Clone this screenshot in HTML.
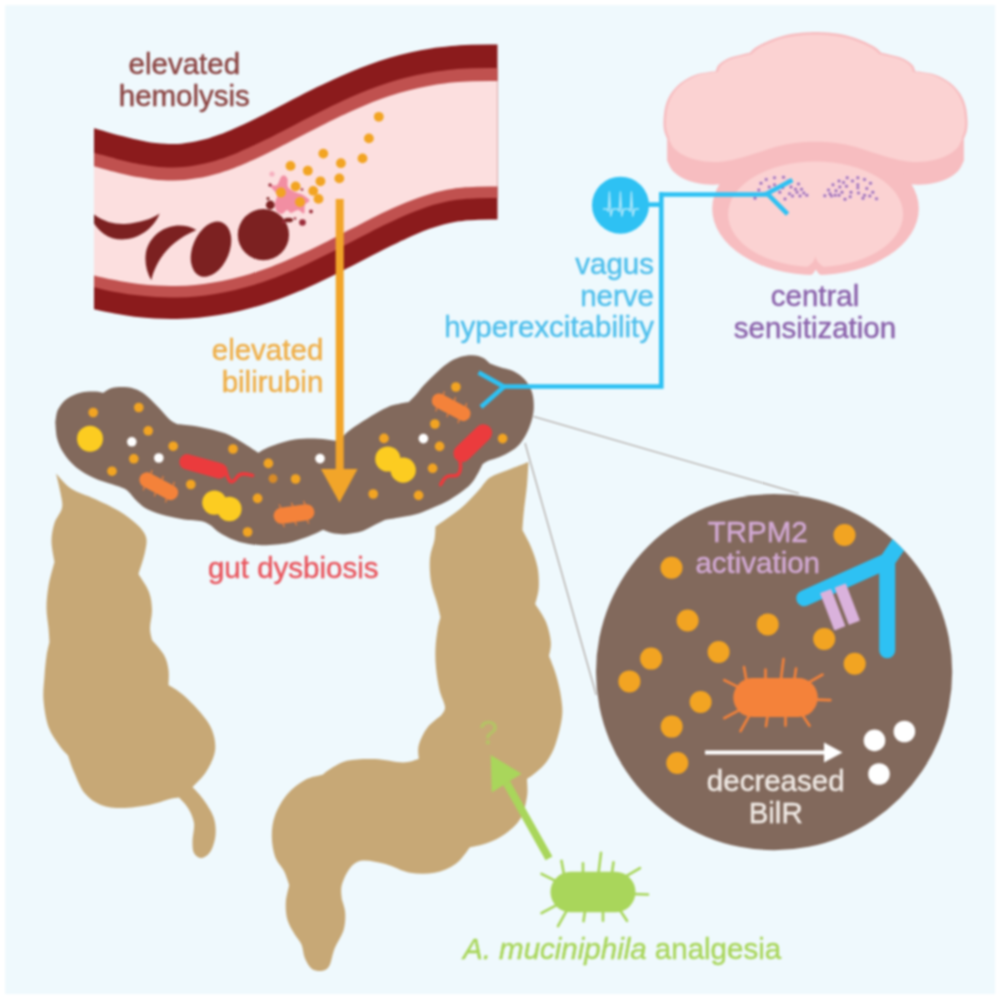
<!DOCTYPE html>
<html lang="en">
<head>
<meta charset="utf-8">
<title>Graphical abstract</title>
<style>
html,body{margin:0;padding:0;background:#fff;}
body{width:1000px;height:1000px;overflow:hidden;position:relative;}
svg{position:absolute;left:0;top:0;display:block;filter:blur(1px);}
</style>
</head>
<body>
<svg width="1000" height="1000" viewBox="0 0 1000 1000">
<rect x="0" y="0" width="1000" height="1000" fill="#fff"/>
<rect x="5.2" y="5.2" width="990" height="988.8" fill="#eff9fd"/>
<clipPath id="vc"><rect x="94" y="0" width="403.5" height="400"/></clipPath>
<g clip-path="url(#vc)" fill="none">
<path d="M40 203.2C42.5 204 50 206.3 55 207.8C60 209.3 65 210.8 70 212.3C75 213.8 80 215.3 85 216.7C90 218.1 95 219.5 100 220.8C105 222.1 110 223.3 115 224.4C120 225.5 125 226.6 130 227.5C135 228.4 140 229.2 145 229.8C150 230.4 155 230.9 160 231.2C165 231.5 170 231.6 175 231.5C180 231.4 185 231.2 190 230.7C195 230.2 200 229.5 205 228.7C210 227.9 215 226.9 220 225.7C225 224.5 230 223.2 235 221.7C240 220.2 245 218.4 250 216.6C255 214.8 260 212.7 265 210.6C270 208.5 275 206.2 280 203.9C285 201.6 290 199.2 295 196.7C300 194.2 305 191.7 310 189.1C315 186.5 320 183.9 325 181.3C330 178.7 335 176.2 340 173.6C345 171 350 168.4 355 166C360 163.6 365 161.2 370 158.9C375 156.6 380 154.4 385 152.3C390 150.2 395 148.3 400 146.5C405 144.7 410 143.1 415 141.6C420 140.1 425 138.8 430 137.7C435 136.6 440 135.7 445 134.9C450 134.1 455 133.6 460 133.1C465 132.6 470 132.4 475 132.2C480 132 485 131.9 490 131.9C495 131.9 500 131.9 505 132C510 132.1 515 132.2 520 132.3C525 132.4 530 132.5 535 132.5C540 132.5 547.5 132.3 550 132.3" stroke="#8b1b1c" stroke-width="175"/>
<path d="M40 203.2C42.5 204 50 206.3 55 207.8C60 209.3 65 210.8 70 212.3C75 213.8 80 215.3 85 216.7C90 218.1 95 219.5 100 220.8C105 222.1 110 223.3 115 224.4C120 225.5 125 226.6 130 227.5C135 228.4 140 229.2 145 229.8C150 230.4 155 230.9 160 231.2C165 231.5 170 231.6 175 231.5C180 231.4 185 231.2 190 230.7C195 230.2 200 229.5 205 228.7C210 227.9 215 226.9 220 225.7C225 224.5 230 223.2 235 221.7C240 220.2 245 218.4 250 216.6C255 214.8 260 212.7 265 210.6C270 208.5 275 206.2 280 203.9C285 201.6 290 199.2 295 196.7C300 194.2 305 191.7 310 189.1C315 186.5 320 183.9 325 181.3C330 178.7 335 176.2 340 173.6C345 171 350 168.4 355 166C360 163.6 365 161.2 370 158.9C375 156.6 380 154.4 385 152.3C390 150.2 395 148.3 400 146.5C405 144.7 410 143.1 415 141.6C420 140.1 425 138.8 430 137.7C435 136.6 440 135.7 445 134.9C450 134.1 455 133.6 460 133.1C465 132.6 470 132.4 475 132.2C480 132 485 131.9 490 131.9C495 131.9 500 131.9 505 132C510 132.1 515 132.2 520 132.3C525 132.4 530 132.5 535 132.5C540 132.5 547.5 132.3 550 132.3" stroke="#c0514f" stroke-width="130" transform="translate(0 1)"/>
<path d="M40 203.2C42.5 204 50 206.3 55 207.8C60 209.3 65 210.8 70 212.3C75 213.8 80 215.3 85 216.7C90 218.1 95 219.5 100 220.8C105 222.1 110 223.3 115 224.4C120 225.5 125 226.6 130 227.5C135 228.4 140 229.2 145 229.8C150 230.4 155 230.9 160 231.2C165 231.5 170 231.6 175 231.5C180 231.4 185 231.2 190 230.7C195 230.2 200 229.5 205 228.7C210 227.9 215 226.9 220 225.7C225 224.5 230 223.2 235 221.7C240 220.2 245 218.4 250 216.6C255 214.8 260 212.7 265 210.6C270 208.5 275 206.2 280 203.9C285 201.6 290 199.2 295 196.7C300 194.2 305 191.7 310 189.1C315 186.5 320 183.9 325 181.3C330 178.7 335 176.2 340 173.6C345 171 350 168.4 355 166C360 163.6 365 161.2 370 158.9C375 156.6 380 154.4 385 152.3C390 150.2 395 148.3 400 146.5C405 144.7 410 143.1 415 141.6C420 140.1 425 138.8 430 137.7C435 136.6 440 135.7 445 134.9C450 134.1 455 133.6 460 133.1C465 132.6 470 132.4 475 132.2C480 132 485 131.9 490 131.9C495 131.9 500 131.9 505 132C510 132.1 515 132.2 520 132.3C525 132.4 530 132.5 535 132.5C540 132.5 547.5 132.3 550 132.3" stroke="#fcdfdf" stroke-width="105.5" transform="translate(0 1.75)"/>
</g>
<path clip-path="url(#vc)" d="M159.6 213.6C151 236 122 247 104 234C96 228 90 219 86 208C100 221 112 224.5 125 224C140 223 152 219 159.6 213.6Z" fill="#7c2121"/>
<path d="M196.4 230C178 219.5 152 228 146 252C144.3 262 146.5 272 151.3 280.2C155.5 262 168 242 196.4 230Z" fill="#7c2121"/>
<ellipse cx="211" cy="249.2" rx="18.3" ry="29" transform="rotate(22.7 211 249.2)" fill="#7c2121"/>
<circle cx="263.4" cy="234.7" r="25.6" fill="#7c2121"/>
<circle cx="270.3" cy="205" r="4.4" fill="#7c2121"/><circle cx="268" cy="198.6" r="1.5" fill="#7c2121"/><ellipse cx="288.5" cy="220" rx="4.5" ry="2.3" fill="#7c2121"/>
<path d="M270.5 186C270.5 184.3 275.2 186.5 277 185C278.8 183.5 279.8 178.6 281 177C282.2 175.4 283.4 175.2 284.5 175.5C285.6 175.8 286.9 177.1 287.5 179C288.1 180.9 286.8 184.8 288 187C289.2 189.2 292.5 190.7 295 192C297.5 193.3 300.6 193.6 303 195C305.4 196.4 309.2 198.8 309.5 200.5C309.8 202.2 305.9 202.8 305 205C304.1 207.2 305.2 212.7 304 213.5C302.8 214.3 300.2 210.1 298 210C295.8 209.9 292.8 213 291 213C289.2 213 288.5 209.8 287 210C285.5 210.2 283.8 213.8 282 214C280.2 214.2 277.7 212.8 276.5 211C275.3 209.2 274.9 205.7 275 203C275.1 200.3 277.8 197.8 277 195C276.2 192.2 270.5 187.7 270.5 186Z" fill="#f28ea2"/>
<circle cx="272" cy="174" r="2.6" fill="#f6b0bf"/>
<circle cx="302.5" cy="222.5" r="3.3" fill="#9a2d3a"/>
<circle cx="311" cy="211.5" r="1.9" fill="#9a2d3a"/>
<circle cx="270" cy="185" r="1.7" fill="#9a2d3a"/>
<circle cx="302" cy="189.5" r="1.3" fill="#9a2d3a"/>
<circle cx="283.5" cy="222" r="1.4" fill="#9a2d3a"/>
<circle cx="295" cy="218.5" r="1.3" fill="#9a2d3a"/>
<g fill="#f2a422">
<circle cx="378.8" cy="116.8" r="4.9"/>
<circle cx="368.9" cy="138.4" r="4.9"/>
<circle cx="362.5" cy="158.4" r="4.9"/>
<circle cx="323.3" cy="153.6" r="4.9"/>
<circle cx="340.9" cy="163.2" r="4.9"/>
<circle cx="339.3" cy="178.4" r="4.9"/>
<circle cx="290.5" cy="165.9" r="4.9"/>
<circle cx="307.8" cy="170.7" r="4.9"/>
<circle cx="320.4" cy="181.3" r="4.9"/>
<circle cx="295.6" cy="186.4" r="4.9"/>
<circle cx="313.2" cy="190.9" r="4.9"/>
<circle cx="318.5" cy="198.9" r="4.9"/>
<circle cx="280.9" cy="192.5" r="4.9"/>
<circle cx="300" cy="202" r="4.9"/>
</g>
<path d="M56 473.5C58.5 476 64.5 484.2 71 488.5C77.5 492.8 87 495.2 95 499C103 502.8 112 506.8 119 511C126 515.2 132.5 520.2 137 524.5C141.5 528.8 144.7 532.4 146 537C147.3 541.6 146.2 545.8 145 552C143.8 558.2 139.6 570.3 138.5 574C140.2 577 146.8 586 149 592C151.2 598 151.8 604 152 610C152.2 616 150 623 150 628C150 633 151.7 638 152 640C154 642.5 161.2 650 164 655C166.8 660 167.8 665 168.5 670C169.2 675 168.5 682.5 168.5 685C170.8 686.5 176.8 689.5 182 694C187.2 698.5 195 706 200 712C205 718 209.5 723.5 212 730C214.5 736.5 216 744 215 751C214 758 209.8 766 206 772C202.2 778 194.8 784.5 192.5 787C194.2 789 199.5 794 203 799C206.5 804 211.4 811 213.5 817C215.6 823 216 829.2 215.5 835C215 840.8 212.8 847.7 210.5 851.5C208.2 855.3 204.2 857.8 201.5 858C198.8 858.2 195.5 855.8 194 853C192.5 850.2 192.5 846 192.5 841C192.5 836 194.8 828.5 194 823C193.2 817.5 190.5 812.2 188 808C185.5 803.8 180.5 799.2 179 797.5C177.5 797.8 175 797.8 170 799C165 800.2 157 803.5 149 805C141 806.5 130 808 122 808C114 808 107.2 807.5 101 805C94.8 802.5 89 798.5 84.5 793C80 787.5 76.8 778.2 74 772C71.2 765.8 69 758.2 68 755.5C66.5 753.8 62.2 749.8 59 745C55.8 740.2 51.1 734.5 48.5 727C45.9 719.5 44.2 708.5 43.5 700C42.8 691.5 44 683.3 44.5 676C45 668.7 45.7 661.7 46.5 656C47.3 650.3 49 644.3 49.5 642C49.3 639.7 49 633.7 48.5 628C48 622.3 46.5 615 46.5 608C46.5 601 47.2 593.7 48.5 586C49.8 578.3 53.5 566 54.5 562C54 558.5 51.5 547.5 51.5 541C51.5 534.5 52.8 528.5 54.5 523C56.2 517.5 61 513 62 508C63 503 61.5 498.8 60.5 493C59.5 487.2 56.8 476.8 56 473.5Z" fill="#c7a876"/>
<path d="M528.5 462C528.2 465.8 527.8 476.7 527 485C526.2 493.3 524.6 504.5 523.8 512C523 519.5 522.6 527 522.4 530C523.8 532.8 528.5 540.8 531 547C533.5 553.2 536.2 560.2 537.5 567C538.8 573.8 539.1 581.8 538.7 588C538.3 594.2 535.8 601.3 535.2 604C537 607 543.4 615.7 546 622C548.6 628.3 550.3 636.3 550.8 642C551.3 647.7 549.3 653.7 549 656C550.2 659.2 554 668.2 556 675C558 681.8 560 690 561 697C562 704 562.9 709.2 562 717C561.1 724.8 558.1 736.6 555.6 744C553.1 751.4 550.1 756.8 546.8 761.6C543.5 766.4 539.1 769.7 535.8 772.6C532.5 775.5 528.5 777.9 527 779C527 782 528.1 790.2 527 796.8C525.9 803.4 524.1 812.6 520.4 818.8C516.7 825 510.5 830 505 834C499.5 838 493.3 840.8 487.4 843C481.5 845.2 472.7 846.7 469.8 847.4C467.4 850.2 461.4 859.8 455.5 864C449.6 868.2 442.1 871.3 434.5 872.8C426.9 874.2 418.2 874.2 410 872.8C401.8 871.3 393.4 866 385.5 864C377.6 862 368.6 859.9 362.8 860.5C356.9 861.1 354 863.4 350.5 867.5C347 871.6 343.2 879.8 341.8 885C340.3 890.2 341.8 896.7 341.8 899C342.3 901.3 345 907.8 345.2 913C345.5 918.2 345.2 924.7 343.5 930.5C341.8 936.3 337.1 942.2 334.8 948C332.4 953.8 331.5 961.7 329.5 965.5C327.5 969.3 325.4 970.2 322.5 970.8C319.6 971.3 314.9 971 312 969C309.1 967 306.8 962.6 305 958.5C303.2 954.4 303.2 948.6 301.5 944.5C299.8 940.4 296.8 938.1 294.5 934C292.2 929.9 289 925.2 287.5 920C286 914.8 285.5 908.3 285.8 902.5C286 896.7 288.7 887.9 289.2 885C288.4 882.7 286.3 875.7 284 871C281.7 866.3 277.3 862.8 275.2 857C273.2 851.2 271.8 843 271.8 836C271.8 829 272.6 822 275.2 815C277.9 808 282.5 799.8 287.5 794C292.5 788.2 299.2 783.2 305 780C310.8 776.8 319.6 775.6 322.5 774.8C323.7 773.9 325.4 771.8 329.5 769.5C333.6 767.2 339.4 762.5 347 760.8C354.6 759 365.7 758.7 375 759C384.3 759.3 395.7 762.5 403 762.5C410.3 762.5 416.1 759.6 418.8 759C418.8 756.7 417.3 750.2 418.8 745C420.2 739.8 423.7 732.5 427.5 727.5C431.3 722.5 439.2 717.1 441.5 715C442.1 713.7 445.3 711.2 445 707C444.7 702.8 441 696.5 439.5 690C438 683.5 436.7 675 436 668C435.3 661 435.2 654.3 435.5 648C435.8 641.7 436.7 635.2 437.5 630C438.3 624.8 440 619.2 440.5 617C439.9 614.7 438.6 608.8 437 603C435.4 597.2 432.2 589.5 431 582C429.8 574.5 429.4 565 430 558C430.6 551 433.6 545.2 434.5 540C435.4 534.8 435.3 528.8 435.5 526.5C439.6 523.6 452.9 514.9 460 509C467.1 503.1 473 496.2 478 491C483 485.8 485 481 490 477.5C495 474 501.6 472.6 508 470C514.4 467.4 525.1 463.3 528.5 462Z" fill="#c7a876"/>
<path d="M55.3 422.2C55.8 420.1 56 413.5 58 409.6C60 405.7 63.1 401.7 67 398.8C70.9 395.9 76.6 393.7 81.4 392.5C86.2 391.3 92.4 391.5 96 391.6C99.6 391.7 101.8 392.8 103 393C104.5 392.2 108.4 389 112 388C115.6 387 120.4 386.7 124.6 387C128.8 387.3 133.3 388.1 137.2 389.8C141.1 391.5 144.4 394 148 397C151.6 400 155.2 404.1 158.8 407.8C162.4 411.6 166.6 416.8 169.6 419.5C172.6 422.2 175.6 423.2 176.8 424C179.5 424.3 187.1 424.9 193 425.8C198.9 426.7 206 428.1 212 429.6C218 431.1 223.7 432.7 229 435C234.3 437.3 239.1 440.5 244 443.5C248.9 446.5 255.9 451.2 258.3 452.8C259.6 452.1 263.2 449.8 266 448.5C268.8 447.2 270 446.5 274.8 445C279.6 443.5 288 440.7 294.6 439.6C301.2 438.5 308.5 438.4 314.4 438.5C320.3 438.6 325.7 439.5 330 440C334.3 440.5 338.3 441.2 340 441.5C341.1 440.1 343.2 435.9 346.3 433C349.4 430.1 353.4 427.5 358.4 424.2C363.3 420.9 370.7 416.2 376 413.2C381.3 410.2 386.2 407.6 390 406C393.8 404.4 395.7 404.5 398.8 403.9C401.9 403.2 407.1 402.4 408.7 402.1C409.8 401.1 412.4 398.7 415 395.8C417.6 392.9 420.7 388.6 424 385C427.3 381.4 430.9 377.8 434.8 374.2C438.7 370.6 443.2 366.2 447.4 363.4C451.6 360.5 455.8 358.5 460 357.1C464.2 355.8 468.7 355.2 472.6 355.3C476.5 355.4 480.5 356.6 483.4 358C486.2 359.4 488.6 362.5 489.7 363.4C491.4 364 495.6 365.6 499.6 367C503.7 368.4 509.8 369.4 514 371.5C518.2 373.6 521.8 376.2 524.8 379.6C527.8 383.1 530.5 387.7 532 392.2C533.5 396.7 533.8 402.1 533.8 406.6C533.8 411.1 533.2 414.7 532 419.2C530.8 423.7 528.7 429.4 526.6 433.6C524.5 437.8 522.1 441.4 519.4 444.4C516.7 447.4 513.7 449.5 510.4 451.6C507.1 453.7 503.2 455.5 499.6 457C496 458.5 491.7 459.4 488.8 460.6C485.9 461.8 483.6 463.6 482.5 464.2C481.8 465.7 479.9 469.9 478 473.2C476.1 476.5 473.8 480.7 470.8 484C467.8 487.3 464.2 490 460 493C455.8 496 450.7 499.3 445.6 502C440.5 504.7 434.5 507.1 429.4 509.2C424.3 511.3 420.2 513.2 415 514.6C409.8 516 403 516.8 398 517.7C393 518.6 387 519.5 384.8 519.9C383.3 520.6 379.7 522.5 376 524.3C372.3 526.1 367.9 529.2 362.8 530.9C357.7 532.5 350.3 533.8 345.2 534.2C340.1 534.6 335.7 533.8 332 533.1C328.3 532.4 324.7 530.3 323.2 529.8C322.1 530.3 319.5 531.8 316.6 533.1C313.7 534.4 310.4 535.9 305.6 537.5C300.8 539.1 295.3 541.7 288 543C280.7 544.3 269.7 545.4 261.6 545.2C253.5 545 246.2 543.7 239.6 541.9C233 540.1 226.8 536.9 222 534.2C217.2 531.5 212.8 527 211 525.5C209.5 524.8 206.5 522.2 202 521.2C197.5 520.2 190 520.3 184 519.4C178 518.5 172 517.4 166 515.8C160 514.1 152.8 511.9 148 509.5C143.2 507.1 140.2 504.1 137.2 501.4C134.2 498.7 131.2 494.6 130 493.3C129.1 492.6 127.6 490.3 124.6 488.8C121.6 487.3 117.1 486.1 112 484.3C106.9 482.5 100 480.9 94 478C88 475.1 81.1 471.4 76 467.2C70.9 463 66.5 457.6 63.4 452.8C60.2 448 58.5 443.5 57.1 438.4C55.8 433.3 55.6 424.9 55.3 422.2Z" fill="#82695c"/>
<path d="M533.5 416.5L799 493.5M525 443L596.2 695" stroke="#a59a94" stroke-width="1.05" fill="none"/>
<g fill="#f2a422">
<circle cx="93.2" cy="412.5" r="4.8"/>
<circle cx="138.8" cy="407.5" r="4.8"/>
<circle cx="148.2" cy="430.8" r="4.8"/>
<circle cx="173.2" cy="446.2" r="4.8"/>
<circle cx="133.8" cy="458.8" r="4.8"/>
<circle cx="112" cy="471.2" r="4.8"/>
<circle cx="233" cy="449" r="4.8"/>
<circle cx="268.4" cy="463.4" r="4.8"/>
<circle cx="190.8" cy="484.5" r="4.8"/>
<circle cx="257.6" cy="498.4" r="4.8"/>
<circle cx="247.6" cy="532" r="4.8"/>
<circle cx="295.6" cy="479" r="4.8"/>
<circle cx="384" cy="438.4" r="4.8"/>
<circle cx="373.2" cy="494" r="4.8"/>
<circle cx="455.9" cy="387" r="4.8"/>
<circle cx="434.9" cy="424" r="4.8"/>
<circle cx="439.6" cy="446.4" r="4.8"/>
<circle cx="502.6" cy="438.6" r="4.8"/>
<circle cx="432.6" cy="468.3" r="4.8"/>
<circle cx="418.6" cy="495.4" r="4.8"/>
</g>
<circle cx="273" cy="478.6" r="4.4" fill="#d88b27"/>
<g fill="#fff">
<circle cx="131.8" cy="441.8" r="4.8"/>
<circle cx="158.8" cy="458" r="4.8"/>
<circle cx="320" cy="458.6" r="4.8"/>
<circle cx="423.4" cy="438.6" r="4.8"/>
</g>
<g fill="#fccc21">
<circle cx="90" cy="438.75" r="13"/>
<circle cx="214.4" cy="502.6" r="12.2"/><circle cx="229.4" cy="509" r="12.2"/>
<circle cx="387.8" cy="459" r="12.6"/><circle cx="403.2" cy="470.2" r="12.6"/>
</g>
<g transform="translate(158.8 486.2) rotate(28)"><rect x="-21" y="-7.5" width="42" height="15" rx="7.5" fill="#f4823a"/><path d="M-12.6 -7.5L-13.6 -11M-12.6 7.5L-11.6 11M0 -7.5L-1 -11M0 7.5L1 11M12.6 -7.5L11.6 -11M12.6 7.5L13.6 11" stroke="#f4823a" stroke-width="1.2" fill="none"/></g>
<g transform="translate(294 514) rotate(-8)"><rect x="-20.5" y="-8" width="41" height="16" rx="8" fill="#f4823a"/><path d="M-12.3 -8L-13.3 -11.5M-12.3 8L-11.3 11.5M0 -8L-1 -11.5M0 8L1 11.5M12.3 -8L11.3 -11.5M12.3 8L13.3 11.5" stroke="#f4823a" stroke-width="1.2" fill="none"/></g>
<g transform="translate(451.2 407.2) rotate(28)"><rect x="-21" y="-7.2" width="42" height="14.5" rx="7.2" fill="#f4823a"/><path d="M-12.6 -7.2L-13.6 -10.8M-12.6 7.2L-11.6 10.8M0 -7.2L-1 -10.8M0 7.2L1 10.8M12.6 -7.2L11.6 -10.8M12.6 7.2L13.6 10.8" stroke="#f4823a" stroke-width="1.2" fill="none"/></g>
<g transform="translate(203.2 466.4) rotate(15.5)"><rect x="-24.5" y="-7.8" width="49" height="15.5" rx="7.8" fill="#eb3b3d"/></g>
<path d="M225 468C226.5 473 227 477 229.5 480.5C232 483.5 235 480 237.5 476.5C240 473.5 245 473 252.5 475.5" stroke="#eb3b3d" stroke-width="3.6" fill="none" stroke-linecap="round"/>
<g transform="translate(472.8 443.2) rotate(-44)"><rect x="-23.5" y="-8.8" width="47" height="17.5" rx="8.8" fill="#eb3b3d"/></g>
<path d="M459.5 459C461 465 461.5 470 458.5 474C455.5 477.5 451 474.5 447 476.5C443 478.5 443 481.5 440.6 484.5" stroke="#eb3b3d" stroke-width="3.6" fill="none" stroke-linecap="round"/>
<g stroke="#2ec1f3" stroke-width="4.6" fill="none" stroke-linejoin="miter">
<path d="M661.3 192.2V386.5H504"/>
<path d="M648 204.6H661.3"/>
<path d="M478.6 372.6L504 386.7L481 407" stroke-linecap="butt"/>
</g>
<rect x="335.7" y="199" width="8" height="272" fill="#f2a529"/>
<path d="M321 469H357.5L339.5 502.5Z" fill="#f2a529"/>
<path d="M667.1 138.8C666.6 137.5 664.8 134 664.2 131C663.6 128 663.3 124.9 663.5 120.8C663.7 116.7 664.1 110.9 665.3 106.4C666.5 101.9 668.2 97.7 670.7 93.8C673.2 89.9 676.6 86.2 680.6 83C684.6 79.8 690.2 76.7 695 74.9C699.8 73.1 705.9 72.6 709.4 72C712.9 71.4 714.7 71.4 715.7 71.3C716.2 70.2 716.5 67.1 718.4 65C720.3 62.9 723.8 60.4 727.4 58.7C731 57 736.2 56 740 55C743.8 54 748.2 52.8 749.9 52.4C751 51.5 753.1 49 756.2 47C759.4 45 764 42.7 768.8 40.7C773.6 38.8 779.3 36.6 785 35.3C790.7 33.9 797.9 33.1 803 32.6C808.1 32.1 813.4 32.1 815.5 32C817.6 32.1 822.9 32.1 828 32.6C833.1 33.1 840.3 33.9 846 35.3C851.7 36.6 857.4 38.8 862.2 40.7C867 42.7 871.6 45 874.8 47C877.9 49 880 51.5 881.1 52.4C882.8 52.8 887.2 54 891 55C894.8 56 900 57 903.6 58.7C907.2 60.4 910.7 62.9 912.6 65C914.5 67.1 914.8 70.2 915.3 71.3C916.3 71.4 918.1 71.4 921.6 72C925.1 72.6 931.2 73.1 936 74.9C940.8 76.7 946.4 79.8 950.4 83C954.4 86.2 957.8 89.9 960.3 93.8C962.8 97.7 964.5 101.9 965.7 106.4C966.9 110.9 967.3 116.7 967.5 120.8C967.7 124.9 967.4 128 966.8 131C966.2 134 964.4 137.5 963.9 138.8L963.9 160.8C962.9 162.6 960.8 168.4 957.6 171.6C954.5 174.8 950.1 177.6 945 179.7C939.9 181.8 933 183.4 927 184.2C921 184.9 915 184.8 909 184.2C903 183.6 897 182.1 891 180.6C885 179.1 879 177 873 175.2C867 173.4 861 171.3 855 169.8C849 168.3 843.6 167 837 166.2C830.4 165.4 822.7 165.2 815.5 165.2C808.3 165.2 800.6 165.4 794 166.2C787.4 167 782 168.3 776 169.8C770 171.3 764 173.4 758 175.2C752 177 746 179.1 740 180.6C734 182.1 728 183.6 722 184.2C716 184.8 710 184.9 704 184.2C698 183.4 691.1 181.8 686 179.7C680.9 177.6 676.5 174.8 673.4 171.6C670.2 168.4 668.1 162.6 667.1 160.8Z" fill="#f7bdc0"/>
<path d="M669.5 138.2C669 136.9 667.2 133.4 666.6 130.5C666.1 127.5 665.8 124.5 666 120.5C666.2 116.4 666.6 110.7 667.8 106.3C669 101.9 670.7 97.7 673.2 93.9C675.7 90.1 679 86.4 683.1 83.3C687.1 80.2 692.7 77.2 697.4 75.4C702.2 73.6 708.4 73.2 711.8 72.6C715.3 72.1 717.1 72.1 718.1 72C718.5 71 718.8 67.9 720.8 65.8C722.7 63.8 726.1 61.4 729.7 59.8C733.2 58.2 738.4 57.3 742.1 56.3C745.9 55.3 750.3 54.3 751.9 53.9C752.9 53 755 50.5 758.1 48.7C761.1 46.8 765.7 44.5 770.3 42.7C775 40.8 780.5 38.8 786.1 37.6C791.6 36.3 798.6 35.6 803.5 35.1C808.4 34.5 813.5 34.6 815.5 34.5C817.5 34.6 822.6 34.5 827.5 35.1C832.4 35.6 839.4 36.3 844.9 37.6C850.5 38.8 856 40.8 860.7 42.7C865.3 44.5 869.9 46.8 872.9 48.7C876 50.5 878.1 53 879.1 53.9C880.7 54.3 885.1 55.3 888.9 56.3C892.6 57.3 897.8 58.2 901.3 59.8C904.9 61.4 908.3 63.8 910.2 65.8C912.2 67.9 912.5 71 912.9 72C913.9 72.1 915.7 72.1 919.2 72.6C922.6 73.2 928.8 73.6 933.6 75.4C938.3 77.2 943.9 80.2 947.9 83.3C952 86.4 955.3 90.1 957.8 93.9C960.3 97.7 962 101.9 963.2 106.3C964.4 110.7 964.8 116.4 965 120.5C965.2 124.5 964.9 127.5 964.4 130.5C963.8 133.4 962 136.9 961.5 138.2L962.4 138.4C961.4 140.2 959.3 146 956.2 149.1C953 152.2 948.7 155 943.6 157.1C938.5 159.2 931.7 160.8 925.7 161.5C919.7 162.2 913.7 162 907.8 161.4C901.8 160.7 895.8 159.2 889.8 157.7C883.8 156.1 877.9 154 871.9 152.2C865.9 150.3 860 148.2 854 146.6C848.1 145.1 842.8 143.7 836.3 142.9C829.9 142 822.4 141.7 815.5 141.7C808.6 141.7 801.1 142 794.7 142.9C788.2 143.7 782.9 145.1 777 146.6C771 148.2 765.1 150.3 759.1 152.2C753.1 154 747.2 156.1 741.2 157.7C735.2 159.2 729.2 160.7 723.2 161.4C717.3 162 711.3 162.2 705.3 161.5C699.3 160.8 692.5 159.2 687.4 157.1C682.3 155 678 152.2 674.8 149.1C671.7 146 669.6 140.2 668.6 138.4Z" fill="#fbd2d2"/>
<ellipse cx="815.5" cy="208.6" rx="103.3" ry="66.5" fill="#f7bdc0"/>
<path d="M804 279C811 276 815 273 815.8 268.6C816.6 273 821 276 828 279Z" fill="#eff9fd"/>
<ellipse cx="815.6" cy="214.3" rx="87.5" ry="52.8" fill="#fbd2d2"/>
<path d="M800 270C809 267 814.5 262.5 815.4 256C816.3 262.5 822 267 831 270Z" fill="#f7bdc0"/>
<g fill="#e3bfe6" opacity=".7">
<circle cx="847.2" cy="177.7" r="2.3"/>
<circle cx="857.8" cy="177.7" r="2.3"/>
<circle cx="864.5" cy="179.5" r="2.3"/>
<circle cx="870.5" cy="183.2" r="2.3"/>
<circle cx="839" cy="181" r="2.3"/>
<circle cx="843.5" cy="182.5" r="2.3"/>
<circle cx="833" cy="184.8" r="2.3"/>
<circle cx="839.8" cy="187" r="2.3"/>
<circle cx="846.5" cy="186.2" r="2.3"/>
<circle cx="857.8" cy="184.8" r="2.3"/>
<circle cx="857.8" cy="187.8" r="2.3"/>
<circle cx="828.5" cy="190" r="2.3"/>
<circle cx="836" cy="190.8" r="2.3"/>
<circle cx="842" cy="192.2" r="2.3"/>
<circle cx="851" cy="192.2" r="2.3"/>
<circle cx="858.5" cy="193" r="2.3"/>
<circle cx="864.5" cy="195.2" r="2.3"/>
<circle cx="872.8" cy="192.2" r="2.3"/>
<circle cx="824.8" cy="195.7" r="2.3"/>
<circle cx="831.5" cy="196" r="2.3"/>
<circle cx="835.2" cy="195.2" r="2.3"/>
<circle cx="845" cy="199.3" r="2.3"/>
<circle cx="863" cy="198.2" r="2.3"/>
<circle cx="876.5" cy="198.7" r="2.3"/>
<circle cx="839" cy="195.2" r="2.3"/>
<circle cx="830" cy="193.8" r="2.3"/>
<circle cx="852.5" cy="181" r="2.3"/>
<circle cx="866.8" cy="188.5" r="2.3"/>
<circle cx="850.2" cy="196.8" r="2.3"/>
<circle cx="869.8" cy="196" r="2.3"/>
<circle cx="766.2" cy="179.5" r="2.3"/>
<circle cx="774.5" cy="177.7" r="2.3"/>
<circle cx="783.5" cy="177.2" r="2.3"/>
<circle cx="761" cy="183.2" r="2.3"/>
<circle cx="758.8" cy="190" r="2.3"/>
<circle cx="755" cy="198.2" r="2.3"/>
<circle cx="774.5" cy="184.8" r="2.3"/>
<circle cx="779.8" cy="192.2" r="2.3"/>
<circle cx="785" cy="199" r="2.3"/>
<circle cx="791" cy="187" r="2.3"/>
<circle cx="798.5" cy="184" r="2.3"/>
<circle cx="801.5" cy="189.2" r="2.3"/>
<circle cx="797" cy="192.2" r="2.3"/>
<circle cx="789.5" cy="193.8" r="2.3"/>
<circle cx="792.5" cy="196" r="2.3"/>
<circle cx="800" cy="196" r="2.3"/>
<circle cx="806.8" cy="195.2" r="2.3"/>
<circle cx="795.5" cy="189.2" r="2.3"/>
<circle cx="769.2" cy="187" r="2.3"/>
<circle cx="764" cy="193.8" r="2.3"/>
<circle cx="788" cy="181" r="2.3"/>
<circle cx="803.8" cy="193" r="2.3"/>
<circle cx="782.8" cy="187.8" r="2.3"/>
</g>
<g fill="#8a5ba8">
<circle cx="847.2" cy="177.7" r="1.25"/>
<circle cx="857.8" cy="177.7" r="1.25"/>
<circle cx="864.5" cy="179.5" r="1.25"/>
<circle cx="870.5" cy="183.2" r="1.25"/>
<circle cx="839" cy="181" r="1.25"/>
<circle cx="843.5" cy="182.5" r="1.25"/>
<circle cx="833" cy="184.8" r="1.25"/>
<circle cx="839.8" cy="187" r="1.25"/>
<circle cx="846.5" cy="186.2" r="1.25"/>
<circle cx="857.8" cy="184.8" r="1.25"/>
<circle cx="857.8" cy="187.8" r="1.25"/>
<circle cx="828.5" cy="190" r="1.25"/>
<circle cx="836" cy="190.8" r="1.25"/>
<circle cx="842" cy="192.2" r="1.25"/>
<circle cx="851" cy="192.2" r="1.25"/>
<circle cx="858.5" cy="193" r="1.25"/>
<circle cx="864.5" cy="195.2" r="1.25"/>
<circle cx="872.8" cy="192.2" r="1.25"/>
<circle cx="824.8" cy="195.7" r="1.25"/>
<circle cx="831.5" cy="196" r="1.25"/>
<circle cx="835.2" cy="195.2" r="1.25"/>
<circle cx="845" cy="199.3" r="1.25"/>
<circle cx="863" cy="198.2" r="1.25"/>
<circle cx="876.5" cy="198.7" r="1.25"/>
<circle cx="839" cy="195.2" r="1.25"/>
<circle cx="830" cy="193.8" r="1.25"/>
<circle cx="852.5" cy="181" r="1.25"/>
<circle cx="866.8" cy="188.5" r="1.25"/>
<circle cx="850.2" cy="196.8" r="1.25"/>
<circle cx="869.8" cy="196" r="1.25"/>
<circle cx="766.2" cy="179.5" r="1.25"/>
<circle cx="774.5" cy="177.7" r="1.25"/>
<circle cx="783.5" cy="177.2" r="1.25"/>
<circle cx="761" cy="183.2" r="1.25"/>
<circle cx="758.8" cy="190" r="1.25"/>
<circle cx="755" cy="198.2" r="1.25"/>
<circle cx="774.5" cy="184.8" r="1.25"/>
<circle cx="779.8" cy="192.2" r="1.25"/>
<circle cx="785" cy="199" r="1.25"/>
<circle cx="791" cy="187" r="1.25"/>
<circle cx="798.5" cy="184" r="1.25"/>
<circle cx="801.5" cy="189.2" r="1.25"/>
<circle cx="797" cy="192.2" r="1.25"/>
<circle cx="789.5" cy="193.8" r="1.25"/>
<circle cx="792.5" cy="196" r="1.25"/>
<circle cx="800" cy="196" r="1.25"/>
<circle cx="806.8" cy="195.2" r="1.25"/>
<circle cx="795.5" cy="189.2" r="1.25"/>
<circle cx="769.2" cy="187" r="1.25"/>
<circle cx="764" cy="193.8" r="1.25"/>
<circle cx="788" cy="181" r="1.25"/>
<circle cx="803.8" cy="193" r="1.25"/>
<circle cx="782.8" cy="187.8" r="1.25"/>
</g>
<path d="M659 194.5H767.2M792.4 180L767.2 193.6L787.6 214.2" stroke="#2ec1f3" stroke-width="4.6" fill="none"/>
<circle cx="620.5" cy="205.2" r="28.5" fill="#2ec1f3"/>
<path d="M603 209H606.9L608.3 211.5L609.4 192L610.8 216L612.7 209H617.9L619.3 211.5L620.4 192L621.8 216L623.7 209H628.9L630.3 211.5L631.4 192L632.8 216L634.7 209H639" stroke="#fff" stroke-width="1.4" fill="none" stroke-linejoin="round" opacity=".62"/>
<circle cx="774.1" cy="672.1" r="178.1" fill="#82695c"/>
<clipPath id="cc"><circle cx="774.1" cy="672.1" r="178.1"/></clipPath>
<g fill="#f2a422">
<circle cx="844.5" cy="535" r="11"/>
<circle cx="671.5" cy="567.8" r="11"/>
<circle cx="687.6" cy="620.5" r="11"/>
<circle cx="767.7" cy="624.4" r="11"/>
<circle cx="824.2" cy="639" r="11"/>
<circle cx="718.6" cy="652" r="11"/>
<circle cx="651.1" cy="658.6" r="11"/>
<circle cx="854.7" cy="663.8" r="11"/>
<circle cx="629.4" cy="681.4" r="11"/>
<circle cx="700.6" cy="702" r="11"/>
<circle cx="671.7" cy="726.6" r="11"/>
<circle cx="677.3" cy="763" r="11"/>
</g>
<g fill="#fff">
<circle cx="874.5" cy="740.4" r="10.8"/>
<circle cx="904.4" cy="731.5" r="10.8"/>
<circle cx="879" cy="774" r="10.8"/>
</g>
<path d="M705 750.5H824V742.5L842.5 752.5L824 762.5V754.5H705Z" fill="#fff"/>
<g transform="translate(775.5 697.6)"><rect x="-42.2" y="-19.5" width="84.5" height="39" rx="19.5" fill="#f4823a"/><path d="M-29 -16.5L-31.5 -30.5M-10 -18.5L-10 -28M5.5 -18.5L8 -38.5M19 -18.5L20.5 -29M32 -14.5L47 -23M40.2 2L54.8 2.5M-37.2 -10.5L-51.2 -17.5M-36.2 12.5L-51.2 20.5M-26 17.5L-35 33.5M-8 18.5L-9.5 28.5M10 18.5L10 28M27 17.5L34 28" stroke="#f4823a" stroke-width="2.6" stroke-linecap="round" fill="none"/></g>
<g clip-path="url(#cc)"><path d="M804.2 598.2L887.2 561L906 533.5M887.2 561V650.3" stroke="#2ec1f3" stroke-width="16" stroke-linecap="round" stroke-linejoin="round" fill="none"/></g>
<g transform="translate(840 606.9) rotate(-21)" fill="#dab2dc"><rect x="-13.8" y="-20" width="12" height="40" rx="1"/><rect x="1.8" y="-20" width="12" height="40" rx="1"/></g>
<g transform="translate(593 892)"><rect x="-42.5" y="-20.2" width="85" height="40.5" rx="20.2" fill="#a9d65b"/><path d="M-29 -17.2L-31.5 -31.2M-10 -19.2L-10 -28.8M5.5 -19.2L8 -39.2M19 -19.2L20.5 -29.8M32 -15.2L47 -23.8M40.5 2L55 2.5M-37.5 -11.2L-51.5 -18.2M-36.5 13.2L-51.5 21.2M-26 18.2L-35 34.2M-8 19.2L-9.5 29.2M10 19.2L10 28.8M27 18.2L34 28.8" stroke="#a9d65b" stroke-width="2.6" stroke-linecap="round" fill="none"/></g>
<path d="M549 858.4L506.6 783" stroke="#a9d65b" stroke-width="7.8" fill="none"/>
<path d="M490.7 755L521.5 773.7L491.8 792.4Z" fill="#a9d65b"/>
<g font-family="'Liberation Sans', sans-serif" font-size="29.5" stroke-width="0.45" stroke-linejoin="round">
<text x="184.3" y="73.9" fill="#8b4442" stroke="#8b4442" text-anchor="middle">elevated</text>
<text x="184.3" y="105.9" fill="#8b4442" stroke="#8b4442" text-anchor="middle">hemolysis</text>
<text x="323.3" y="359.9" fill="#efae47" stroke="#efae47" text-anchor="end">elevated</text>
<text x="323.3" y="391.9" fill="#efae47" stroke="#efae47" text-anchor="end">bilirubin</text>
<text x="293.2" y="578.4" fill="#e9555d" stroke="#e9555d" text-anchor="middle">gut dysbiosis</text>
<text x="654" y="274.4" fill="#4fbfec" stroke="#4fbfec" text-anchor="end">vagus</text>
<text x="654" y="305.9" fill="#4fbfec" stroke="#4fbfec" text-anchor="end">nerve</text>
<text x="654" y="337.4" fill="#4fbfec" stroke="#4fbfec" text-anchor="end">hyperexcitability</text>
<text x="815" y="306.1" fill="#8b62ab" stroke="#8b62ab" text-anchor="middle">central</text>
<text x="815" y="338.3" fill="#8b62ab" stroke="#8b62ab" text-anchor="middle">sensitization</text>
<text x="757.7" y="541.8" fill="#d2a9d4" stroke="#d2a9d4" text-anchor="middle">TRPM2</text>
<text x="757.7" y="572.7" fill="#d2a9d4" stroke="#d2a9d4" text-anchor="middle">activation</text>
<text x="775.7" y="791" fill="#efe9e4" stroke="#efe9e4" text-anchor="middle">decreased</text>
<text x="775.7" y="823" fill="#efe9e4" stroke="#efe9e4" text-anchor="middle">BilR</text>
<text x="488.3" y="743.6" fill="#a9d65b" stroke="#a9d65b" text-anchor="middle" font-size="33.5" opacity=".6">?</text>
<text x="463" y="958.8" fill="#a9d65b" stroke="#a9d65b"><tspan font-style="italic">A. muciniphila</tspan> analgesia</text>
</g>
</svg>
</body>
</html>
